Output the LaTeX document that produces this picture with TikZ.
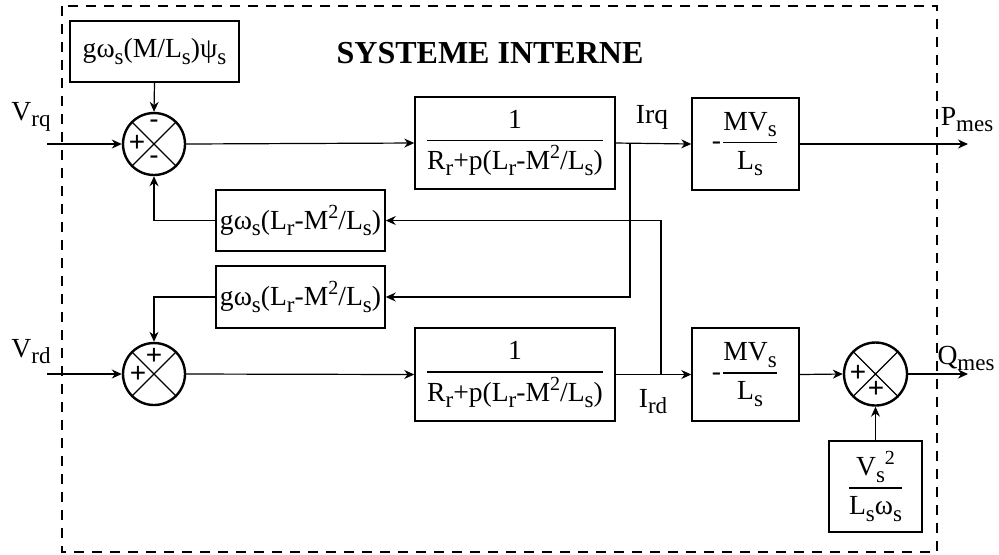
\documentclass[tikz,border=0pt]{standalone}
\usepackage{amsmath}
\usepackage{fontspec}
\setmainfont{Liberation Serif}
\setsansfont{Liberation Sans}
\usetikzlibrary{arrows.meta,shapes.geometric}

\newcommand{\tsub}[1]{\raisebox{-3.2pt}{\fontsize{11.5}{11.5}\selectfont #1}}
\newcommand{\tsup}[1]{\raisebox{5.5pt}{\fontsize{10}{10}\selectfont #1}}
\newcommand{\bfrac}[2]{$\genfrac{}{}{0.7pt}{0}{\mbox{#1}}{\mbox{#2}}$}

\begin{document}
\begin{tikzpicture}
  [x=0.5pt,y=-0.5pt,font=\fontsize{13.8}{15}\selectfont,
   every node/.style={inner sep=0pt},
   blk/.style={draw,line width=0.75pt,minimum width=84.5pt,minimum height=30.5pt},
   sumnode/.style={circle,draw,line width=1.2pt,minimum size=31pt},
   sgn/.style={font=\sffamily\fontsize{14}{14}\selectfont},
   lnk/.style={line width=0.6pt,-{Stealth[length=5pt,width=4.5pt]}}]
  \useasboundingbox (0,0) rectangle (999,554);
  \draw[dashed,line width=0.6pt,dash pattern=on 5pt off 4pt] (62,6) rectangle (937,552);

  \node[font=\bfseries\fontsize{16}{18}\selectfont,anchor=base] (title) at (490,63) {SYSTEME INTERNE};

  % q axis
  \node[blk] (gm) at (154.5,51.5) {gω\tsub{s}(M/L\tsub{s})ψ\tsub{s}};
  \node[sumnode] (s1) at (154,144) {};
  \node[blk,minimum width=100pt,minimum height=46pt] (tf1) at (515,143) {\bfrac{1}{R\tsub{r}+p(L\tsub{r}-M\tsup{2}/L\tsub{s})}};
  \node[blk,minimum width=53.5pt,minimum height=46pt] (k1) at (745.5,144) {-\bfrac{MV\tsub{s}}{L\tsub{s}}};

  % cross coupling
  \node[blk] (fb1) at (300.5,220.5) {gω\tsub{s}(L\tsub{r}-M\tsup{2}/L\tsub{s})};
  \node[blk,minimum height=31pt] (fb2) at (300.5,297) {gω\tsub{s}(L\tsub{r}-M\tsup{2}/L\tsub{s})};

  % d axis
  \node[sumnode] (s2) at (154,374) {};
  \node[blk,minimum width=100pt,minimum height=46.5pt] (tf2) at (515,374.5) {\bfrac{1}{R\tsub{r}+p(L\tsub{r}-M\tsup{2}/L\tsub{s})}};
  \node[blk,minimum width=53.5pt,minimum height=46.5pt] (k2) at (745.5,374.5) {-\bfrac{MV\tsub{s}}{L\tsub{s}}};
  \node[sumnode,minimum size=31.5pt] (s3) at (875.5,374) {};
  \node[blk,minimum width=46.5pt,minimum height=45.5pt] (vs) at (875.5,486.5) {\bfrac{V\tsub{s}\tsup{2}}{L\tsub{s}ω\tsub{s}}};

  \foreach \s in {s1,s2,s3}
    \draw[line width=0.6pt] (\s.45) -- (\s.225) (\s.135) -- (\s.315);

  \node[sgn] (p1) at (137,143) {+};
  \node[sgn] (m1) at (154,124) {-};
  \node[sgn] (m2) at (154,160) {-};
  \node[sgn] (p2) at (138,374) {+};
  \node[sgn] (p3) at (154,356) {+};
  \node[sgn] (p4) at (858,373) {+};
  \node[sgn] (p5) at (876,389) {+};

  % signals
  \node[anchor=base] (vrq) at (31,120) {V\tsub{rq}};
  \node[anchor=base] (vrd) at (31,357) {V\tsub{rd}};
  \node[anchor=base] (irq) at (652,123) {Irq};
  \node[anchor=base] (ird) at (653,407) {I\tsub{rd}};
  \node[anchor=base] (pmes) at (967,125) {P\tsub{mes}};
  \node[anchor=base] (qmes) at (966,364) {Q\tsub{mes}};

  \coordinate (in1) at (47,144);
  \coordinate (in2) at (47,374);
  \coordinate (out1) at (968,144);
  \coordinate (out2) at (968,374);
  \coordinate (bq) at (630,144);
  \coordinate (bd) at (661,374);

  \foreach \from/\to in {in1/s1.west,gm.south/s1.north,s1.east/tf1.west,tf1.east/k1.west,k1.east/out1,
                         in2/s2.west,s2.east/tf2.west,tf2.east/k2.west,k2.east/s3.west,s3.east/out2,vs.north/s3.south}
    \draw[lnk] (\from) -- (\to);

  \draw[lnk] (bq) |- (fb2.east);
  \draw[lnk] (bd) |- (fb1.east);
  \draw[lnk] (fb1.west) -| (s1.south);
  \draw[lnk] (fb2.west) -| (s2.north);

\end{tikzpicture}
\end{document}
